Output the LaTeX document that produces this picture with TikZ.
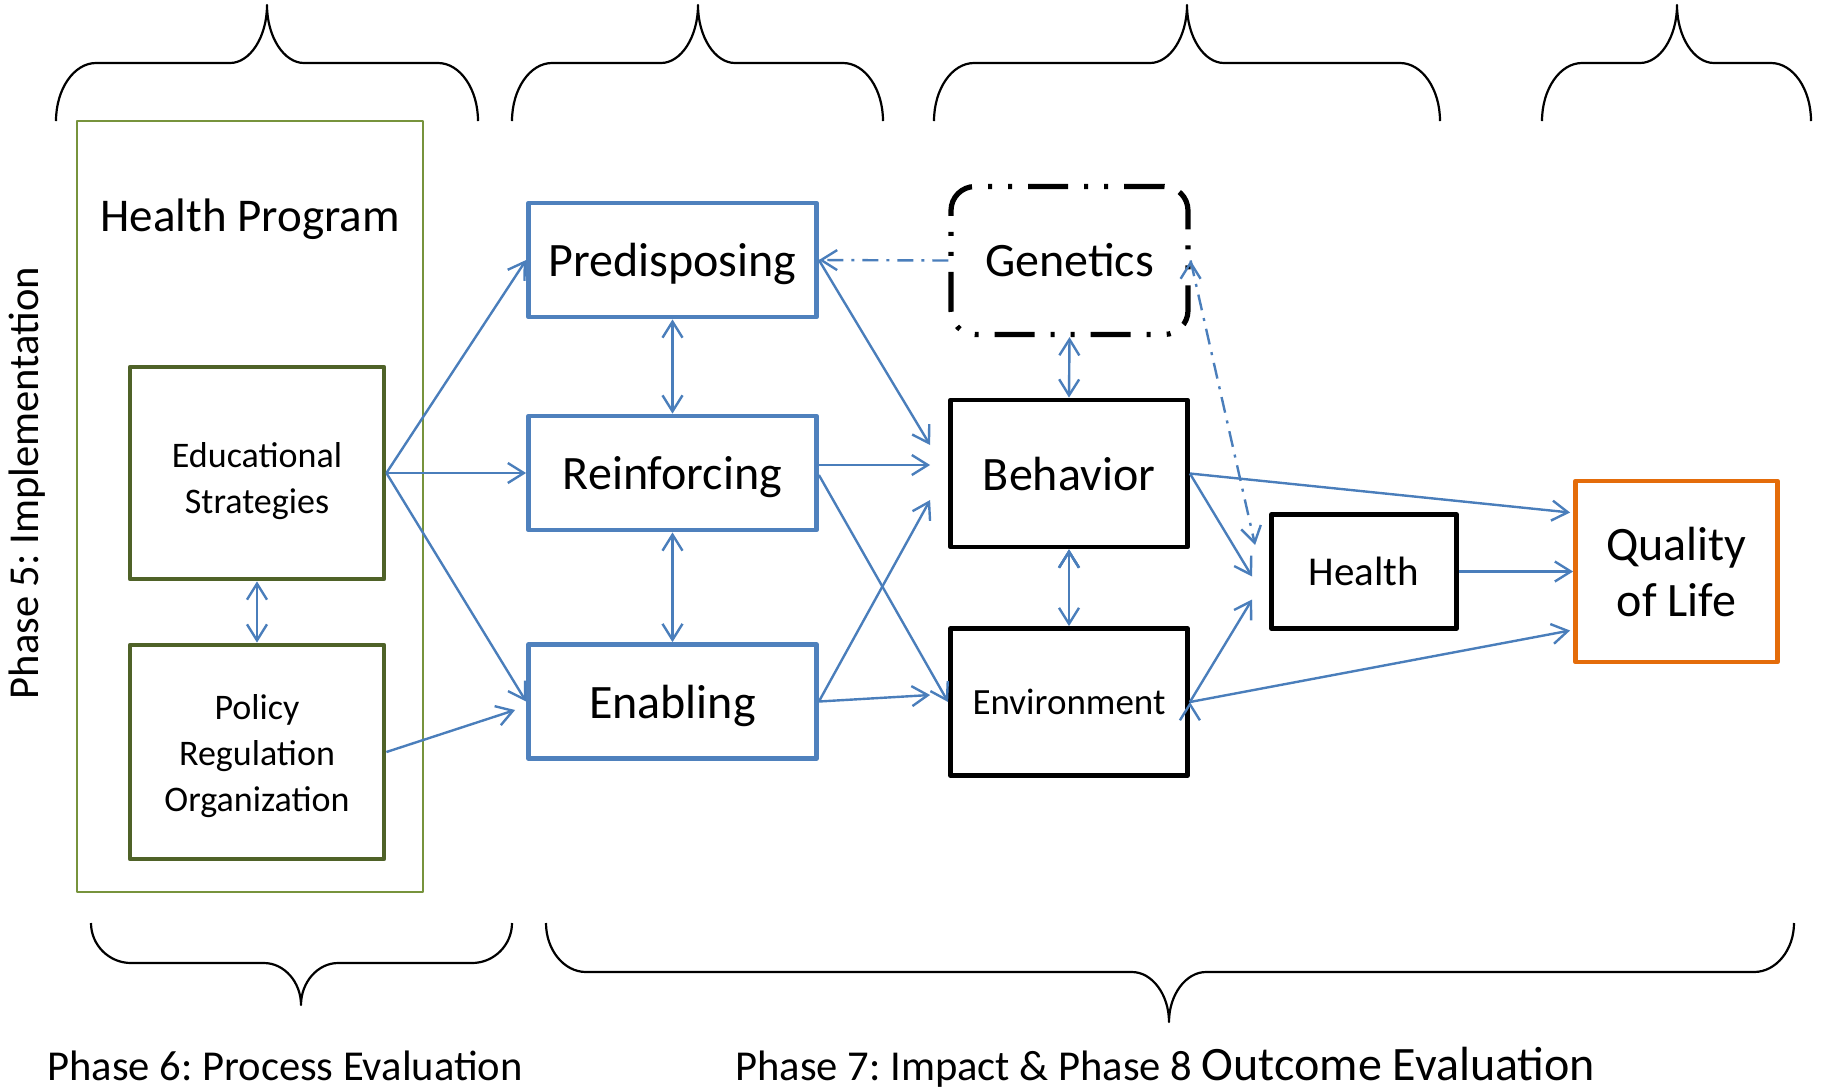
\documentclass[tikz,border=0pt]{standalone}
\usepackage{fontspec}
\setmainfont{Carlito}
\frenchspacing
\usetikzlibrary{arrows.meta,positioning,calc}
\definecolor{arrowblue}{HTML}{4A7EBB}
\definecolor{boxblue}{HTML}{4F81BD}
\definecolor{darkolive}{HTML}{4F6228}
\definecolor{lightolive}{HTML}{77933C}
\definecolor{qolorange}{HTML}{E46C0A}

\begin{document}
\begin{tikzpicture}[x=0.5pt,y=-0.5pt,>={Straight Barb[length=8pt,width=10pt]},line join=round]
  \tikzstyle{plainbox}=[draw,rectangle,align=center,inner sep=2pt]
  \tikzstyle{greenbox}=[plainbox,draw=darkolive,line width=2.4pt,minimum width=127pt,minimum height=106pt,font=\fontsize{18}{23}\selectfont]
  \tikzstyle{bluebox}=[plainbox,draw=boxblue,line width=2.4pt,minimum width=144pt,minimum height=57pt,text depth=0pt,font=\fontsize{24}{29}\selectfont]
  \tikzstyle{blackbox}=[plainbox,draw=black,line width=2.4pt,minimum width=118.5pt,minimum height=73.5pt,font=\fontsize{24}{29}\selectfont]
  \tikzstyle{phase}=[inner sep=0pt,font=\fontsize{21.3}{25}\selectfont]
  \tikzstyle{link}=[draw=arrowblue,line width=1.2pt,->]
  \tikzstyle{hint}=[link,dash pattern=on 8pt off 4pt on 1.5pt off 4pt]
  \tikzstyle{brace}=[draw=black,line width=1.1pt]

  \useasboundingbox (0,0) rectangle (1837,1089);

  \node[rectangle,draw=lightolive,line width=0.8pt,minimum width=173pt,minimum height=385.5pt] (prog) at (250,506.5) {};
  \node[font=\fontsize{23.5}{28}\selectfont] (progtitle) at (250,219) {Health Program};
  \node[greenbox] (edu) at (257,473) {\rule{0pt}{21pt}Educational\\Strategies};
  \node[greenbox,minimum height=107pt] (pol) at (257,752) {\rule{0pt}{16.5pt}Policy\\Regulation\\Organization};

  \node[bluebox] (pred)  at (672.5,260)   {Predisposing};
  \node[bluebox] (reinf) at (672.5,473)   {Reinforcing};
  \node[bluebox] (enab)  at (672.5,701.5) {Enabling};

  \node[blackbox,minimum height=74pt,rounded corners=12pt,line width=2.6pt,dash pattern=on 20pt off 8pt on 2pt off 8pt on 2pt off 8pt] (gen) at (1069.5,260.5) {Genetics};
  \node[blackbox] (beh) at (1069,473.5) {Behavior};
  \node[blackbox,font=\fontsize{18.5}{22}\selectfont] (env) at (1069,702) {Environment};
  \node[blackbox,minimum width=92.5pt,minimum height=57pt,font=\fontsize{20.5}{25}\selectfont] (health) at (1364,571.5) {Health};
  \node[plainbox,draw=qolorange,line width=2.4pt,minimum width=101pt,minimum height=90.5pt,font=\fontsize{24}{28}\selectfont] (qol) at (1676.5,571.5) {Quality\\of Life};

  \node[phase,rotate=90,anchor=base] (ph5) at (39,483) {Phase 5: Implementation};
  \node[phase,anchor=base west] (ph6) at (47,1080) {Phase 6: Process Evaluation};
  \node[phase,anchor=base west] (ph78) at (735,1080) {Phase 7: Impact \& Phase 8 {\fontsize{24}{29}\selectfont Outcome Evaluation}};

  \path[link]
  (edu.east) edge (pred.west)
  (edu.east) edge (reinf.west)
  (edu.east) edge (enab.west)
  (pol.east) edge ($(enab.west)+(-11,8.5)$)
  (pred.east) edge ($(beh.west)+(-18,-28.5)$)
  ($(reinf.east)+(0,-8)$) edge ($(beh.west)+(-18,-8.5)$)
  ($(reinf.east)+(0,2)$) edge (env.west)
  (enab.east) edge ($(beh.west)+(-18,26.5)$)
  (enab.east) edge ($(env.west)+(-18,-7)$)
  (beh.east) edge ($(health.west)+(-17,5)$)
  (env.east) edge ($(health.west)+(-17,28)$)
  (beh.east) edge ($(qol.west)+(-3,-59)$)
  (health.east) edge (qol.west)
  (env.east) edge ($(qol.west)+(-3,59)$);

  \path[link,<->]
  (edu.south) edge (pol.north)
  (pred.south) edge (reinf.north)
  (reinf.south) edge (enab.north)
  (gen.south) edge (beh.north)
  (beh.south) edge (env.north);

  \path[hint]
  (gen.west) edge (pred.east)
  (gen.east) edge ($(health.west)+(-14,-26.5)$);

  \foreach \xa/\xt/\xb in {56/267/478,512/698/883,934/1187/1440,1542/1677/1811}
    \draw[brace] (\xa,121) .. controls (\xa,89) and ({\xa+18},63) .. ({\xa+40},63) -- ({\xt-37},63) .. controls ({\xt-17},63) and (\xt,37) .. (\xt,5) .. controls (\xt,37) and ({\xt+17},63) .. ({\xt+37},63) -- ({\xb-40},63) .. controls ({\xb-18},63) and (\xb,89) .. (\xb,121);

  \foreach \xa/\xt/\xb/\yh/\yt in {91/301/512/963/1005,546/1169/1794/972/1022}
    \draw[brace] (\xa,923) .. controls (\xa,{923+0.55*(\yh-923)}) and ({\xa+18},\yh) .. ({\xa+40},\yh) -- ({\xt-37},\yh) .. controls ({\xt-17},\yh) and (\xt,{\yt-0.55*(\yt-\yh)}) .. (\xt,\yt) .. controls (\xt,{\yt-0.55*(\yt-\yh)}) and ({\xt+17},\yh) .. ({\xt+37},\yh) -- ({\xb-40},\yh) .. controls ({\xb-18},\yh) and (\xb,{923+0.55*(\yh-923)}) .. (\xb,923);
\end{tikzpicture}
\end{document}
